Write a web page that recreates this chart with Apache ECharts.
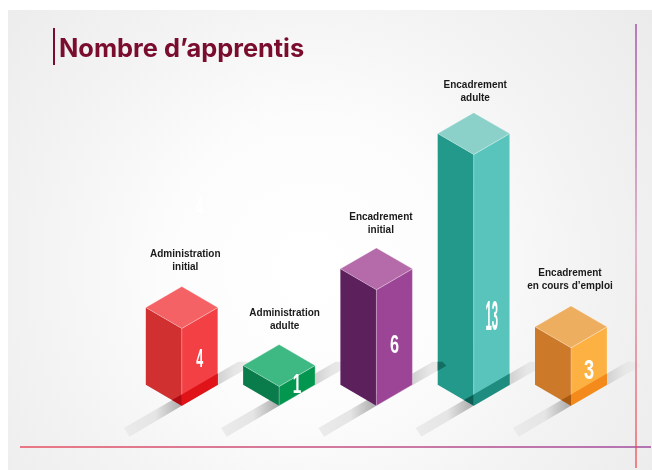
<!DOCTYPE html>
<html>
<head>
<meta charset="utf-8">
<style>
html, body { margin: 0; padding: 0; background: #fff; }
#main { width: 652px; height: 470px; }
</style>
<script src="https://cdn.jsdelivr.net/npm/echarts@6/dist/echarts.min.js"></script>
</head>
<body>
<div id="main"></div>
<script>
// data
const categories = ['Administration\ninitial', 'Administration\nadulte', 'Encadrement\ninitial', 'Encadrement\nadulte', 'Encadrement\nen cours d\u2019emploi'];
const values = [4, 1, 6, 13, 3];

// face colours of each block
const topColors = ['#f46265', '#3fb984', '#b56aa9', '#8bd1ca', '#edae60'];
const leftColors = ['#d03030', '#0a7b4b', '#5c205c', '#22998a', '#cc7a2a'];
const rightColors = ['#f24044', '#03964f', '#9c4597', '#59c4bc', '#fcb142'];
const footRight = ['#e01318', null, null, '#1f8c80', '#f58a1c'];
const footLeft = ['#b00b12', null, null, '#0d5f55', '#a85a10'];

// number drawn on the right face: height on the value axis, size, horizontal squeeze
const numberAt = [2.37, 1.07, 3.06, 4.54, 1.76];
const numberSize = [25, 28, 25, 42, 28];
const numberSqueeze = [0.5, 0.55, 0.65, 0.27, 0.65];

// label offsets from the block (labels sit a little unevenly in the slide)
const labelShift = [3.5, 5.5, 4.5, 1.5, -1];
const labelGap = [13, 12, 11, 7.5, 13];

const HALF = 36;      // half width of a block
const DROP = 20.9;    // half height of the top diamond
const SLOPE = 0.58;

function poly(points, fill, stroke) {
    return {
        type: 'polygon',
        shape: { points: points },
        style: { fill: fill, stroke: stroke || null, lineWidth: stroke ? 0.8 : 0 }
    };
}

function stripGradient(stops) {
    return new echarts.graphic.LinearGradient(0, 0, 1, 0, stops.map(function (s) {
        return { offset: s[0], color: s[1] };
    }));
}

function renderBlock(params, api) {
    const i = api.value(0);
    const base = api.coord([i, 0]);
    const top = api.coord([i, api.value(1)]);
    const x = base[0], y0 = base[1], y1 = top[1];
    const kids = [];

    // shadow strip under the block
    const s = [[x - 58, y0 + 22.3], [x - 52.3, y0 + 31], [x + 70, y0 - 40], [x + 66, y0 - 44], [x + 56.3, y0 - 44]];
    kids.push(poly([s[0], s[1], [x, y0], [x, y0 - 11.3]], stripGradient([[0, '#ebebeb'], [0.55, '#e5e5e5'], [1, '#aaaaaa']])));
    kids.push(poly([[x, y0 - 11.3], [x, y0], s[2], s[3], s[4]], stripGradient([[0, '#d0d0d0'], [0.55, '#d4d4d4'], [0.75, '#e6e6e6'], [1, '#ececec']])));

    // faces, y1 is the front corner of the top
    const edge = 'rgba(255,255,255,0.35)';
    kids.push(poly([[x - HALF, y1 - DROP], [x, y1], [x, y0], [x - HALF, y0 - DROP]], leftColors[i]));
    kids.push(poly([[x, y1], [x + HALF, y1 - DROP], [x + HALF, y0 - DROP], [x, y0]], rightColors[i], edge));
    kids.push(poly([[x, y1 - 2 * DROP], [x + HALF, y1 - DROP], [x, y1], [x - HALF, y1 - DROP]], topColors[i], edge));

    // the strip showing through the foot of the block
    if (footRight[i]) {
        kids.push(poly([[x, y0 - 11.3], [x, y0], [x + HALF, y0 - DROP], [x + HALF, y0 - 32.3]], footRight[i]));
        kids.push(poly([[x - 9.7, y0 - 5.7], [x, y0], [x, y0 - 11.3]], footLeft[i]));
    }

    // tip of the previous strip lying over the tall block
    if (i === 3) {
        const px = api.coord([i - 1, 0])[0];
        const lx = x - HALF;
        const low = y0 + 31 - SLOPE * (lx - (px - 52.3));
        kids.push(poly([[lx, y0 - 44], [px + 66, y0 - 44], [px + 70, y0 - 40], [lx, low]], '#126e62'));
    }

    // value on the right face
    kids.push({
        type: 'text',
        x: x + 18,
        y: api.coord([i, numberAt[i]])[1],
        scaleX: numberSqueeze[i],
        style: {
            text: String(api.value(1)),
            fill: '#fff',
            font: 'bold ' + numberSize[i] + 'px "Liberation Sans"',
            align: 'center',
            verticalAlign: 'middle'
        }
    });

    // category label above the block
    kids.push({
        type: 'text',
        x: x + labelShift[i],
        y: y1 - 2 * DROP - labelGap[i],
        style: {
            text: categories[i],
            fill: '#1a1a1a',
            font: 'bold 10px "Liberation Sans"',
            lineHeight: 13,
            align: 'center',
            verticalAlign: 'bottom'
        }
    });

    return { type: 'group', children: kids };
}

const chart = echarts.init(document.getElementById('main'), null, { renderer: 'canvas' });
chart.setOption({
    animation: false,
    grid: { left: 133.15, right: 32.35, top: 135.2, bottom: 64.3 },
    xAxis: { type: 'category', data: categories, show: false },
    yAxis: { type: 'value', min: 0, max: 14, show: false },
    graphic: [
        {
            type: 'rect', z: -10,
            shape: { x: 8, y: 10, width: 644, height: 460 },
            style: {
                fill: new echarts.graphic.RadialGradient(0.47, 0.56, 0.92, [
                    { offset: 0, color: '#ffffff' },
                    { offset: 0.35, color: '#fcfcfc' },
                    { offset: 0.65, color: '#f3f3f3' },
                    { offset: 1, color: '#ebebeb' }
                ])
            }
        },
        // title
        { type: 'rect', z: 5, shape: { x: 53, y: 28, width: 2, height: 37 }, style: { fill: '#7a0c2e' } },
        {
            type: 'text', z: 5, x: 59, y: 49,
            style: { text: 'Nombre d\u2019apprentis', fill: '#7a0c2e', font: 'bold 25.4px Inter', verticalAlign: 'middle' }
        },
        // frame lines
        {
            type: 'line', z: 6,
            shape: { x1: 20, y1: 447, x2: 651, y2: 447 },
            style: {
                lineWidth: 1.4,
                stroke: new echarts.graphic.LinearGradient(0, 0, 1, 0, [
                    { offset: 0, color: '#e8505f' },
                    { offset: 1, color: '#a04ba0' }
                ])
            }
        },
        {
            type: 'line', z: 6,
            shape: { x1: 636, y1: 24, x2: 636, y2: 468 },
            style: {
                lineWidth: 1.2,
                stroke: new echarts.graphic.LinearGradient(0, 0, 0, 1, [
                    { offset: 0, color: '#8f2f95' },
                    { offset: 0.5, color: '#d88ab0' },
                    { offset: 1, color: '#f2373c' }
                ])
            }
        },
        // stray faint number left in the slide
        {
            type: 'text', z: 5, x: 200, y: 208, scaleX: 0.5,
            style: { text: '4', fill: '#fff', font: 'bold 25px "Liberation Sans"', align: 'center', verticalAlign: 'middle' }
        }
    ],
    series: [{
        type: 'custom',
        renderItem: renderBlock,
        clip: false,
        encode: { x: 0, y: 1 },
        data: values.map(function (v, i) { return [i, v]; })
    }]
});
</script>
</body>
</html>
